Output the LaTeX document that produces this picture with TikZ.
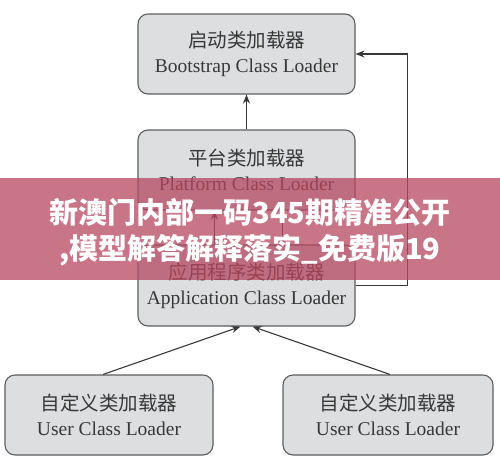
\documentclass[tikz,border=0pt]{standalone}
\usepackage{fontspec}
\setmainfont{Liberation Serif}
\newfontfamily\cjk{Noto Sans CJK SC}
\usetikzlibrary{arrows.meta}
\definecolor{boxfill}{HTML}{DCDEDF}
\definecolor{boxline}{HTML}{5E5E5E}
\definecolor{txt}{HTML}{383838}
\definecolor{bandc}{HTML}{B5475F}
\begin{document}
\begin{tikzpicture}[x=1pt,y=-1pt,
  loader/.style={draw=boxline, line width=1.1pt, fill=boxfill, rounded corners=10pt,
    minimum width=217pt, minimum height=80pt, align=center, text=txt,
    font=\fontsize{19.5}{25}\selectfont, inner sep=0pt},
  arr/.style={draw=txt, line width=1.1pt, -{Stealth[length=9pt,width=7pt]}},
  plain/.style={draw=txt, line width=1.1pt},
  bandtext/.style={text=white, font=\cjk\bfseries\fontsize{29}{29}\selectfont, inner sep=0pt}
]
\useasboundingbox (0,0) rectangle (500,461);
\node[loader] (boot) at (246.5,54) {{\cjk 启动类加载器}\\Bootstrap Class Loader};
\node[loader] (plat) at (246.5,170) {{\cjk 平台类加载器}\\Platform Class Loader};
\node[loader, minimum height=81pt] (app) at (246.5,285.5) {{\cjk 应用程序类加载器}\\Application Class Loader};
\node[loader, minimum width=208pt] (u1) at (109,415) {{\cjk 自定义类加载器}\\User Class Loader};
\node[loader, minimum width=210pt] (u2) at (388,415) {{\cjk 自定义类加载器}\\User Class Loader};
% connectors
\draw[arr] (plat.north) -- (boot.south);
\draw[arr] ([xshift=-32pt]app.north) -- ([xshift=-32pt]plat.south);
\draw[arr] ([xshift=36pt]plat.south) -- ([xshift=36pt]app.north);
\draw[arr] (app.east) -- ++(52,0) |- (boot.east);
\draw[arr] ([xshift=-6pt]u1.north) -- ([xshift=-6pt]app.south);
\draw[arr] ([xshift=2pt]u2.north) -- ([xshift=6pt]app.south);
% overlay band
\fill[bandc, opacity=0.75] (0,178) rectangle (500,280);
\node[bandtext] (b1) at (250,212) {新澳门内部一码345期精准公开};
\node[bandtext] (b2) at (250,250) {,模型解答解释落实\_免费版19};
\end{tikzpicture}
\end{document}
